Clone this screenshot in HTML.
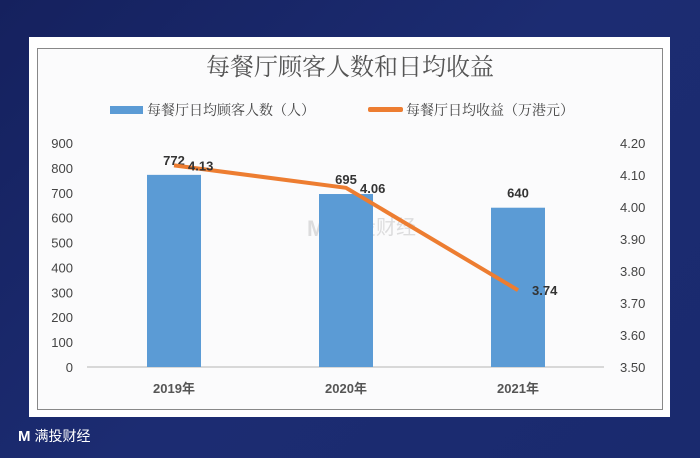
<!DOCTYPE html>
<html><head><meta charset="utf-8"><style>
html,body{margin:0;padding:0;}
body{width:700px;height:458px;overflow:hidden;background:linear-gradient(135deg,#15215e 0%,#1c2c72 50%,#1a2a6e 100%);position:relative;font-family:"Liberation Sans","Noto Sans CJK SC",sans-serif;}
</style></head><body>
<div style="position:absolute;left:29px;top:37px;width:641px;height:380px;background:#fff;"></div>
<div style="position:absolute;left:37px;top:48px;width:624px;height:360px;border:1px solid #888;background:#fbfbfc;"></div>
<svg id="chart" width="700" height="458" style="position:absolute;left:0;top:0">
<text x="350" y="75" text-anchor="middle" font-family="'Liberation Serif','Noto Serif CJK SC',serif" font-size="24" fill="#555">每餐厅顾客人数和日均收益</text>
<g>
<rect x="110" y="106" width="33" height="8" fill="#5b9bd5"/>
<text x="147" y="115" font-family="'Liberation Serif','Noto Serif CJK SC',serif" font-size="14" fill="#444">每餐厅日均顾客人数（人）</text>
<rect x="368" y="107" width="35" height="5" rx="2" fill="#ed7d31"/>
<text x="406" y="115" font-family="'Liberation Serif','Noto Serif CJK SC',serif" font-size="14" fill="#444">每餐厅日均收益（万港元）</text>
</g>
<g opacity="0.18">
<text x="307" y="236" font-family="'Liberation Sans','Noto Sans CJK SC',sans-serif" font-size="22" font-weight="bold" fill="#555">M</text>
<text x="336" y="234" font-family="'Liberation Sans','Noto Sans CJK SC',sans-serif" font-size="20" fill="#555">满投财经</text>
</g>
<line x1="87" y1="367" x2="604" y2="367" stroke="#ccc" stroke-width="1.5"/>
<g id="marks"></g>
</svg>
<div style="position:absolute;left:18px;top:426px;color:#fff;font-size:15px;font-weight:bold;font-family:'Liberation Sans','Noto Sans CJK SC',sans-serif;">M<span style="font-weight:normal;font-size:14px;margin-left:4px">满投财经</span></div>
<script>
const categories=["2019年","2020年","2021年"];
const customers=[772,695,640];
const revenue=[4.13,4.06,3.74];
const leftTicks=[0,100,200,300,400,500,600,700,800,900];
const rightTicks=[3.5,3.6,3.7,3.8,3.9,4.0,4.1,4.2];
const NS="http://www.w3.org/2000/svg";
const g=document.getElementById('marks');
const yL=v=>367-v/900*224;
const yR=v=>367-(v-3.5)/0.7*224;
const xC=i=>174+i*172;
function el(t,a,txt){const e=document.createElementNS(NS,t);for(const k in a)e.setAttribute(k,a[k]);if(txt!==undefined)e.textContent=txt;g.appendChild(e);return e;}
leftTicks.forEach(v=>{const e=el('text',{x:73,y:yL(v)+5,'text-anchor':'end','font-size':13,fill:'#444'},String(v));

});
rightTicks.forEach(v=>{const e=el('text',{x:620,y:yR(v)+5,'font-size':13,fill:'#444'},v.toFixed(2));

});
categories.forEach((c,i)=>{const e=el('text',{x:xC(i),y:393,'text-anchor':'middle','font-size':13,'font-weight':'bold',fill:'#555'},c);

});
customers.forEach((v,i)=>{const r=el('rect',{x:xC(i)-27,y:yL(v),width:54,height:367-yL(v),fill:'#5b9bd5'});


const t=el('text',{x:xC(i),y:yL(v)-10,'text-anchor':'middle','font-size':13,'font-weight':'bold',fill:'#333'},String(v));

});
const p=el('polyline',{points:revenue.map((v,i)=>xC(i)+','+yR(v)).join(' '),fill:'none',stroke:'#ed7d31','stroke-width':4,'stroke-linejoin':'round'});


revenue.forEach((v,i)=>{const t=el('text',{x:xC(i)+14,y:yR(v)+5,'font-size':13,'font-weight':'bold',fill:'#333'},v.toFixed(2));

});
</script>
</body></html>
